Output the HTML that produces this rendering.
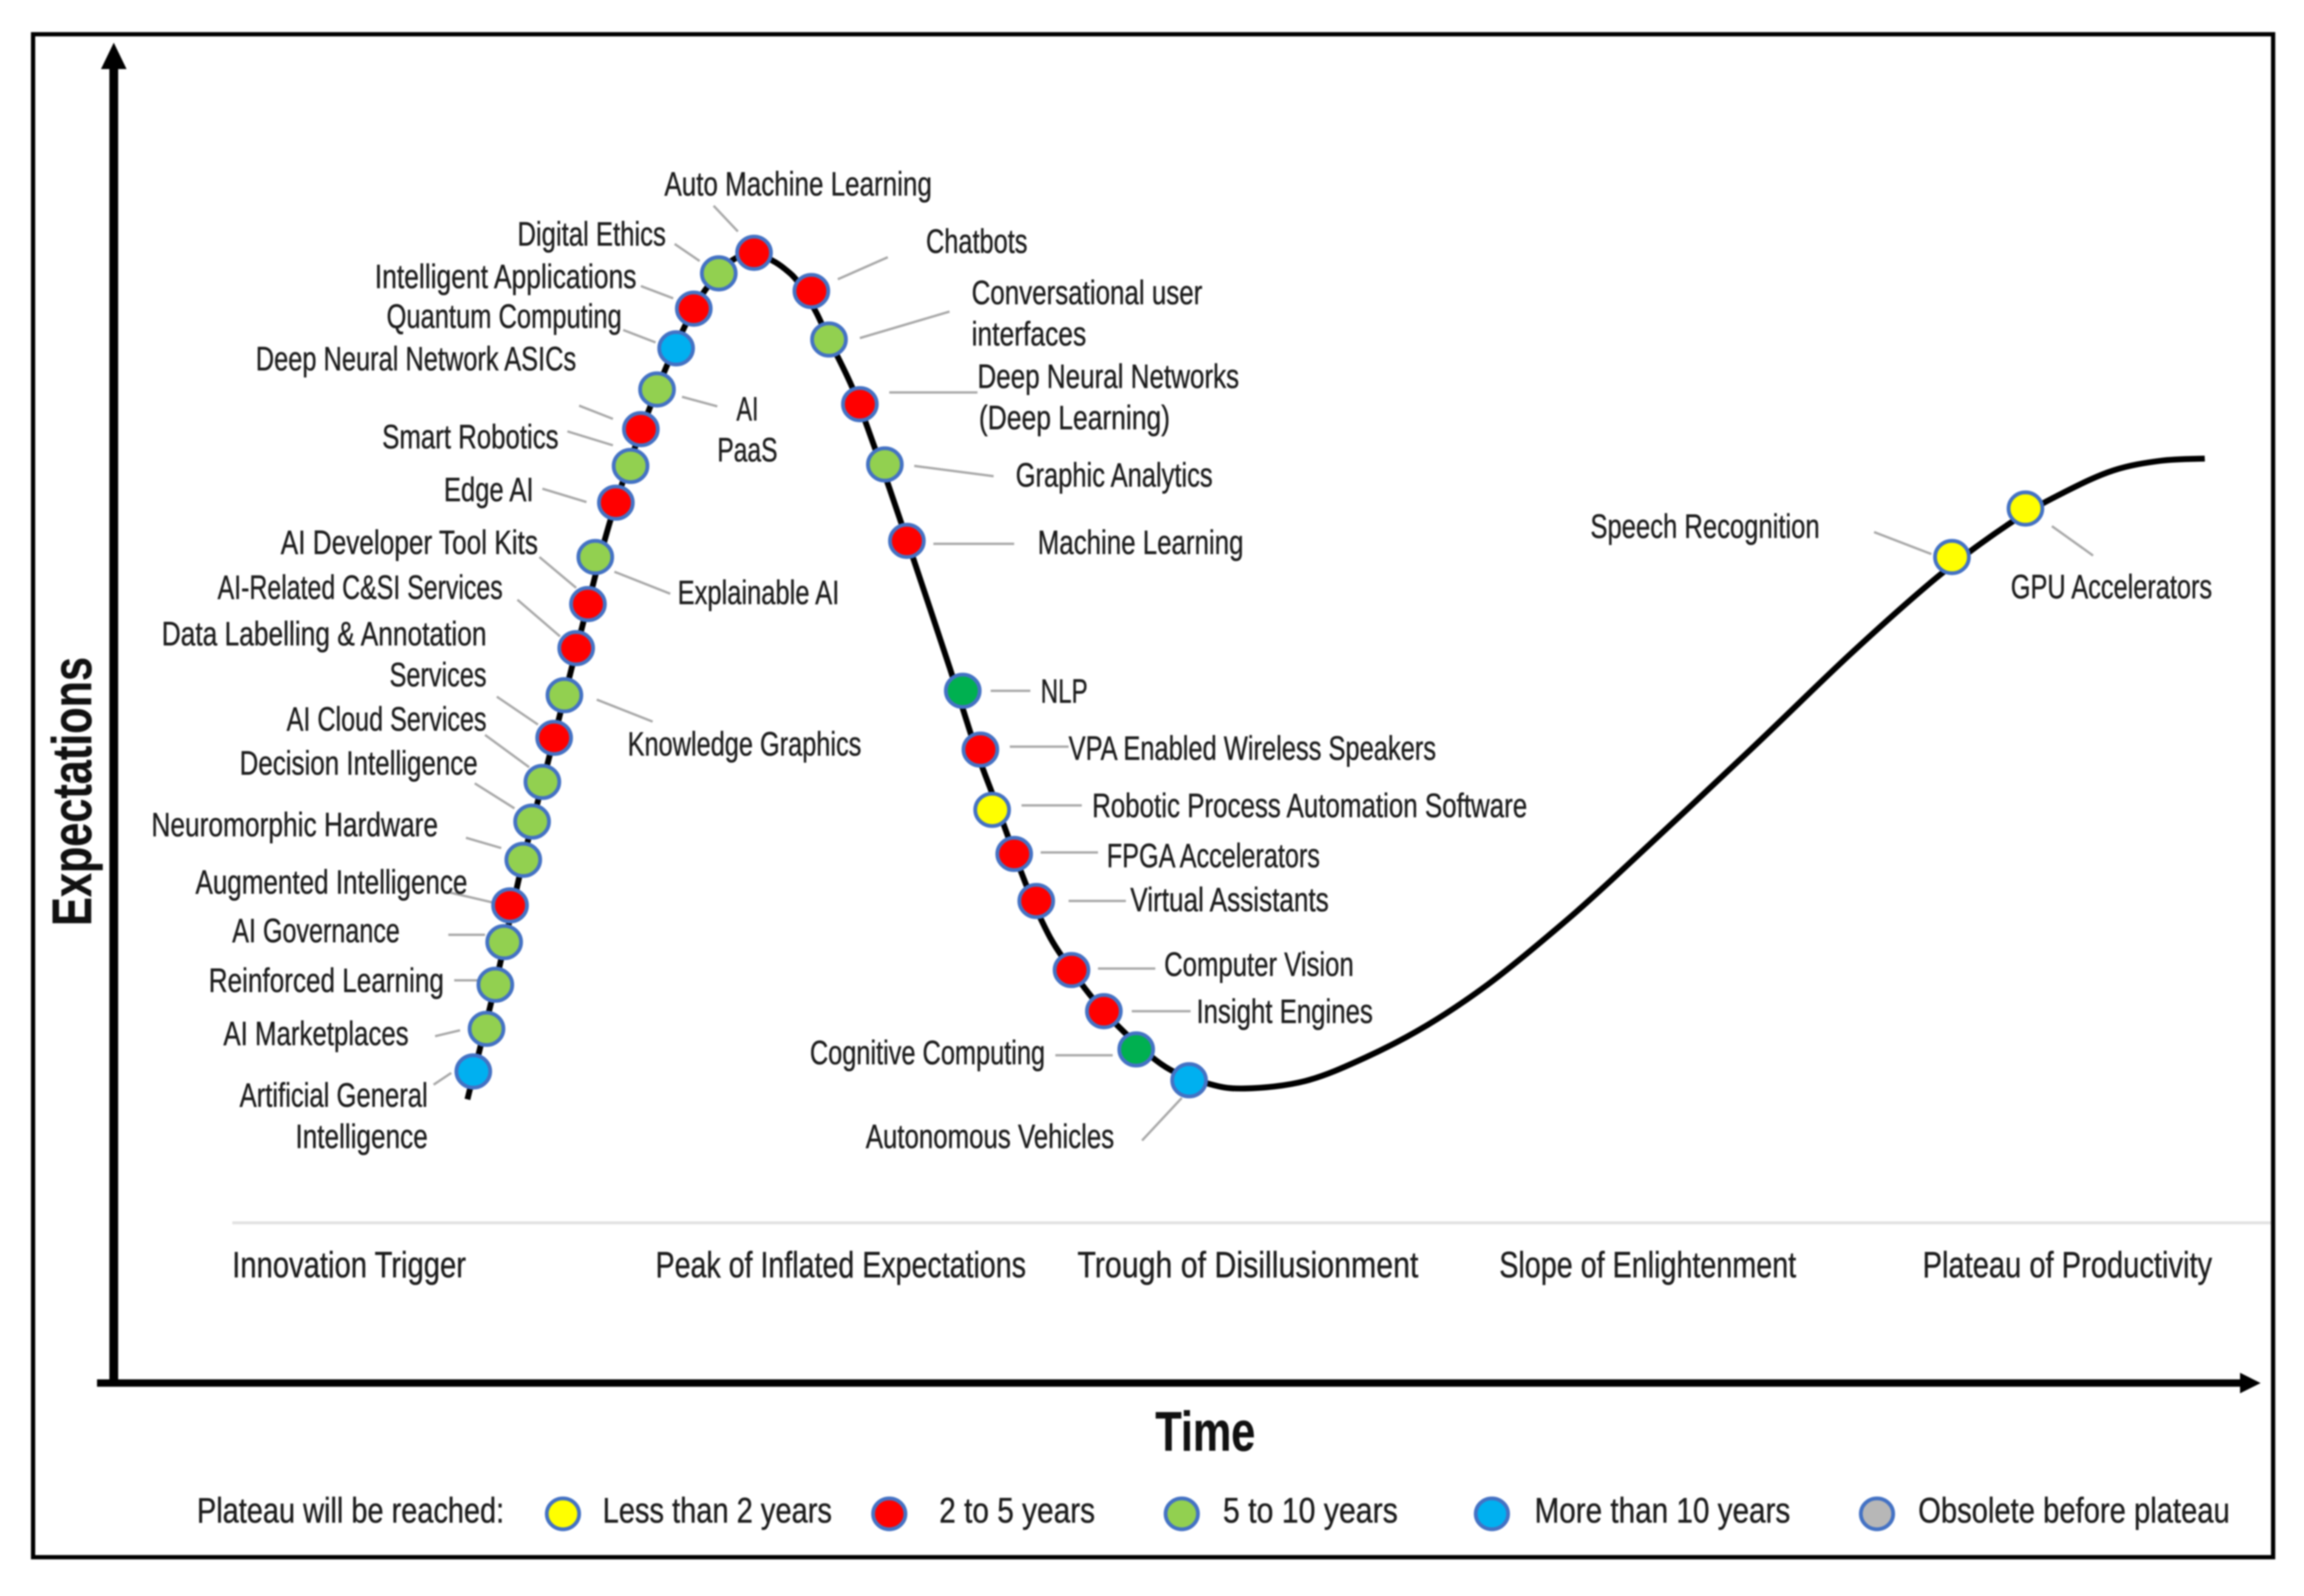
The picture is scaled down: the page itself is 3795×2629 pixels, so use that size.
<!DOCTYPE html>
<html lang="en">
<head>
<meta charset="utf-8">
<title>Hype Cycle for Artificial Intelligence</title>
<style>
html,body{margin:0;padding:0;background:#fff;}
svg{display:block;filter:blur(1.4px);}
text{font-family:"Liberation Sans",sans-serif;fill:#1c1c1c;stroke:#1c1c1c;stroke-width:0.25px;}
.lb{font-size:23px;}
.ph{font-size:25px;}
.lg{font-size:24px;}
.ld{stroke:#a8a8a8;stroke-width:1.6;fill:none;}
.mk{stroke:#4472c4;stroke-width:2.6;}
</style>
</head>
<body>
<svg id="chart" xmlns="http://www.w3.org/2000/svg" width="3795" height="2629" viewBox="0 0 1567.5 1085.9">
<rect x="0" y="0" width="1567.5" height="1085.9" fill="#fff"/>
<rect x="22.5" y="23.3" width="1524" height="1036.2" fill="none" stroke="#000" stroke-width="2.9"/>

<line x1="77.4" y1="44" x2="77.4" y2="943" stroke="#000" stroke-width="6"/>
<polygon points="77.4,29 86.1,47 68.7,47" fill="#000"/>
<line x1="66" y1="941" x2="1526" y2="941" stroke="#000" stroke-width="5"/>
<polygon points="1538,941 1524,934 1524,948" fill="#000"/>
<text transform="translate(62,630) rotate(-90)" font-size="38" font-weight="bold" textLength="183" lengthAdjust="spacingAndGlyphs" style="fill:#111">Expectations</text>
<text x="786" y="987" font-size="38" font-weight="bold" textLength="68" lengthAdjust="spacingAndGlyphs" style="fill:#111">Time</text>

<line x1="158" y1="832" x2="1545" y2="832" stroke="#e2e2e2" stroke-width="2"/>
<text class="ph" x="158" y="869" textLength="159" lengthAdjust="spacingAndGlyphs">Innovation Trigger</text>
<text class="ph" x="446" y="869" textLength="252" lengthAdjust="spacingAndGlyphs">Peak of Inflated Expectations</text>
<text class="ph" x="733" y="869" textLength="232" lengthAdjust="spacingAndGlyphs">Trough of Disillusionment</text>
<text class="ph" x="1020" y="869" textLength="202" lengthAdjust="spacingAndGlyphs">Slope of Enlightenment</text>
<text class="ph" x="1308" y="869" textLength="197" lengthAdjust="spacingAndGlyphs">Plateau of Productivity</text>

<g id="leaders">
<line class="ld" x1="485.5" y1="140" x2="502" y2="157.5"/>
<line class="ld" x1="459" y1="166" x2="476" y2="177.6"/>
<line class="ld" x1="436" y1="194.6" x2="458" y2="203"/>
<line class="ld" x1="424" y1="224.5" x2="446" y2="233"/>
<line class="ld" x1="394" y1="276" x2="417" y2="285"/>
<line class="ld" x1="386" y1="293.5" x2="417" y2="303"/>
<line class="ld" x1="464" y1="270" x2="488" y2="276.5"/>
<line class="ld" x1="369" y1="332.5" x2="399" y2="341.6"/>
<line class="ld" x1="367" y1="379" x2="392" y2="400"/>
<line class="ld" x1="352" y1="408" x2="381" y2="433"/>
<line class="ld" x1="338" y1="474" x2="366" y2="493"/>
<line class="ld" x1="330" y1="500" x2="360" y2="522"/>
<line class="ld" x1="323" y1="533" x2="350" y2="550"/>
<line class="ld" x1="317" y1="570" x2="341" y2="577"/>
<line class="ld" x1="305" y1="607" x2="335" y2="614"/>
<line class="ld" x1="305" y1="636" x2="330" y2="636"/>
<line class="ld" x1="309" y1="667" x2="325" y2="667"/>
<line class="ld" x1="296" y1="705" x2="313" y2="701"/>
<line class="ld" x1="295" y1="738" x2="307" y2="730"/>
<line class="ld" x1="418" y1="389" x2="456" y2="404"/>
<line class="ld" x1="406" y1="476" x2="444" y2="491"/>
<line class="ld" x1="570" y1="190" x2="604" y2="175"/>
<line class="ld" x1="585" y1="230" x2="646" y2="212"/>
<line class="ld" x1="605" y1="267" x2="665" y2="267"/>
<line class="ld" x1="622" y1="317" x2="676" y2="324"/>
<line class="ld" x1="635" y1="370" x2="690" y2="370"/>
<line class="ld" x1="674" y1="470" x2="701" y2="470"/>
<line class="ld" x1="687" y1="508" x2="727" y2="508"/>
<line class="ld" x1="695" y1="548" x2="736" y2="548"/>
<line class="ld" x1="708" y1="580" x2="747" y2="580"/>
<line class="ld" x1="727" y1="613" x2="766" y2="613"/>
<line class="ld" x1="747" y1="659" x2="786" y2="659"/>
<line class="ld" x1="770" y1="688" x2="810" y2="688"/>
<line class="ld" x1="718" y1="718" x2="757" y2="718"/>
<line class="ld" x1="777" y1="776" x2="804" y2="747"/>
<line class="ld" x1="1275" y1="362" x2="1314" y2="377"/>
<line class="ld" x1="1396" y1="358" x2="1424" y2="378"/>
</g>

<g id="series"></g>

<g id="labels">
<text class="lb" x="452" y="133" textLength="182" lengthAdjust="spacingAndGlyphs">Auto Machine Learning</text>
<text class="lb" x="352" y="167" textLength="101" lengthAdjust="spacingAndGlyphs">Digital Ethics</text>
<text class="lb" x="255" y="196" textLength="178" lengthAdjust="spacingAndGlyphs">Intelligent Applications</text>
<text class="lb" x="263" y="223" textLength="160" lengthAdjust="spacingAndGlyphs">Quantum Computing</text>
<text class="lb" x="174" y="252" textLength="218" lengthAdjust="spacingAndGlyphs">Deep Neural Network ASICs</text>
<text class="lb" x="260" y="305" textLength="120" lengthAdjust="spacingAndGlyphs">Smart Robotics</text>
<text class="lb" x="302" y="341" textLength="61" lengthAdjust="spacingAndGlyphs">Edge AI</text>
<text class="lb" x="191" y="377" textLength="175" lengthAdjust="spacingAndGlyphs">AI Developer Tool Kits</text>
<text class="lb" x="148" y="407.5" textLength="194" lengthAdjust="spacingAndGlyphs">AI-Related C&amp;SI Services</text>
<text class="lb" x="110" y="439" textLength="221" lengthAdjust="spacingAndGlyphs">Data Labelling &amp; Annotation</text>
<text class="lb" x="265" y="467" textLength="66" lengthAdjust="spacingAndGlyphs">Services</text>
<text class="lb" x="195" y="497" textLength="136" lengthAdjust="spacingAndGlyphs">AI Cloud Services</text>
<text class="lb" x="163" y="527" textLength="162" lengthAdjust="spacingAndGlyphs">Decision Intelligence</text>
<text class="lb" x="103" y="569" textLength="195" lengthAdjust="spacingAndGlyphs">Neuromorphic Hardware</text>
<text class="lb" x="133" y="608" textLength="185" lengthAdjust="spacingAndGlyphs">Augmented Intelligence</text>
<text class="lb" x="158" y="641" textLength="114" lengthAdjust="spacingAndGlyphs">AI Governance</text>
<text class="lb" x="142" y="675" textLength="160" lengthAdjust="spacingAndGlyphs">Reinforced Learning</text>
<text class="lb" x="152" y="711" textLength="126" lengthAdjust="spacingAndGlyphs">AI Marketplaces</text>
<text class="lb" x="163" y="753" textLength="128" lengthAdjust="spacingAndGlyphs">Artificial General</text>
<text class="lb" x="201" y="781" textLength="90" lengthAdjust="spacingAndGlyphs">Intelligence</text>
<text class="lb" x="501" y="286" textLength="15" lengthAdjust="spacingAndGlyphs">AI</text>
<text class="lb" x="488" y="314" textLength="41" lengthAdjust="spacingAndGlyphs">PaaS</text>
<text class="lb" x="461" y="411" textLength="110" lengthAdjust="spacingAndGlyphs">Explainable AI</text>
<text class="lb" x="427" y="514" textLength="159" lengthAdjust="spacingAndGlyphs">Knowledge Graphics</text>
<text class="lb" x="630" y="172" textLength="69" lengthAdjust="spacingAndGlyphs">Chatbots</text>
<text class="lb" x="661" y="207" textLength="157" lengthAdjust="spacingAndGlyphs">Conversational user</text>
<text class="lb" x="661" y="235" textLength="78" lengthAdjust="spacingAndGlyphs">interfaces</text>
<text class="lb" x="665" y="264" textLength="178" lengthAdjust="spacingAndGlyphs">Deep Neural Networks</text>
<text class="lb" x="666" y="292" textLength="130" lengthAdjust="spacingAndGlyphs">(Deep Learning)</text>
<text class="lb" x="691" y="331" textLength="134" lengthAdjust="spacingAndGlyphs">Graphic Analytics</text>
<text class="lb" x="706" y="377" textLength="140" lengthAdjust="spacingAndGlyphs">Machine Learning</text>
<text class="lb" x="708" y="478" textLength="32" lengthAdjust="spacingAndGlyphs">NLP</text>
<text class="lb" x="727" y="517" textLength="250" lengthAdjust="spacingAndGlyphs">VPA Enabled Wireless Speakers</text>
<text class="lb" x="743" y="556" textLength="296" lengthAdjust="spacingAndGlyphs">Robotic Process Automation Software</text>
<text class="lb" x="753" y="590" textLength="145" lengthAdjust="spacingAndGlyphs">FPGA Accelerators</text>
<text class="lb" x="769" y="620" textLength="135" lengthAdjust="spacingAndGlyphs">Virtual Assistants</text>
<text class="lb" x="792" y="664" textLength="129" lengthAdjust="spacingAndGlyphs">Computer Vision</text>
<text class="lb" x="814" y="696" textLength="120" lengthAdjust="spacingAndGlyphs">Insight Engines</text>
<text class="lb" x="551" y="724" textLength="160" lengthAdjust="spacingAndGlyphs">Cognitive Computing</text>
<text class="lb" x="589" y="781" textLength="169" lengthAdjust="spacingAndGlyphs">Autonomous Vehicles</text>
<text class="lb" x="1082" y="366" textLength="156" lengthAdjust="spacingAndGlyphs">Speech Recognition</text>
<text class="lb" x="1368" y="407" textLength="137" lengthAdjust="spacingAndGlyphs">GPU Accelerators</text>
</g>

<g id="legend">
<text class="lg" x="134" y="1036" textLength="209" lengthAdjust="spacingAndGlyphs">Plateau will be reached:</text>
<ellipse class="mk" cx="383" cy="1030" rx="11" ry="10.5" fill="#ffff00"/>
<text class="lg" x="410" y="1036" textLength="156" lengthAdjust="spacingAndGlyphs">Less than 2 years</text>
<ellipse class="mk" cx="605" cy="1030" rx="11" ry="10.5" fill="#ff0000"/>
<text class="lg" x="639" y="1036" textLength="106" lengthAdjust="spacingAndGlyphs">2 to 5 years</text>
<ellipse class="mk" cx="804" cy="1030" rx="11" ry="10.5" fill="#92d050"/>
<text class="lg" x="832" y="1036" textLength="119" lengthAdjust="spacingAndGlyphs">5 to 10 years</text>
<ellipse class="mk" cx="1015" cy="1030" rx="11" ry="10.5" fill="#00b0f0"/>
<text class="lg" x="1044" y="1036" textLength="174" lengthAdjust="spacingAndGlyphs">More than 10 years</text>
<ellipse class="mk" cx="1277" cy="1030" rx="11" ry="10.5" fill="#b7b7b7"/>
<text class="lg" x="1305" y="1036" textLength="212" lengthAdjust="spacingAndGlyphs">Obsolete before plateau</text>
</g>
</svg>

<script>
// Curve samples (time, expectations)
const curveTime = [24.0,25.9,27.8,29.9,32.2,34.1,36.9,39.4,41.1,42.2,43.5,44.7,45.6,46.5,47.7,48.5,50.2,51.8,52.6,54.0,56.8,58.6,59.9,61.7,63.0,64.4,67.3,71.2,74.3,76.9,81.0,85.1,89.3,93.4,97.5,101.7,111.3,118.2,124.2,129.1,132.7,136.0,139.2,142.2];
const curveExpect = [19.3,27.1,35.6,43.9,53.0,59.9,67.6,73.1,75.5,76.5,76.9,76.4,75.8,74.9,72.9,71.2,67.7,63.4,61.2,57.1,48.7,43.1,39.6,34.7,31.6,29.1,25.3,21.7,20.4,20.04,20.55,22.15,24.35,27.1,30.4,34.1,43.1,49.7,55.0,58.6,60.64,62.1,62.75,62.9];

// Technologies on the curve
const techNames = ["artificial-general-intelligence","ai-marketplaces","reinforced-learning","ai-governance","augmented-intelligence","neuromorphic-hardware","decision-intelligence","ai-cloud-services","data-labelling-annotation","knowledge-graphics","ai-related-csi-services","ai-developer-tool-kits","explainable-ai","edge-ai","smart-robotics","deep-neural-network-asics","ai-paas","quantum-computing","intelligent-applications","digital-ethics","auto-machine-learning","chatbots","conversational-user-interfaces","deep-neural-networks","graphic-analytics","machine-learning","nlp","vpa-wireless-speakers","robotic-process-automation","fpga-accelerators","virtual-assistants","computer-vision","insight-engines","cognitive-computing","autonomous-vehicles","speech-recognition","gpu-accelerators"];
const techTime = [24.4,25.3,25.9,26.5,26.9,27.8,28.4,29.1,29.9,30.6,31.4,32.2,32.7,34.1,35.1,35.8,36.9,38.2,39.4,41.1,43.5,47.4,48.6,50.7,52.4,53.9,57.7,58.9,59.7,61.2,62.7,65.1,67.3,69.5,73.1,125.0,130.0];
const techExpect = [21.2,24.1,27.1,30.0,32.5,35.6,38.2,40.9,43.9,46.8,50.0,53.0,56.2,59.9,62.4,64.9,67.6,70.4,73.1,75.5,76.9,74.3,71.0,66.6,62.5,57.3,47.1,43.1,39.0,36.0,32.8,28.1,25.3,22.7,20.6,56.2,59.5];
const techPlateau = ["10+","5-10","5-10","5-10","2-5","5-10","5-10","5-10","2-5","5-10","2-5","2-5","5-10","2-5","5-10","2-5","5-10","10+","2-5","5-10","2-5","2-5","5-10","2-5","5-10","2-5","nlp","2-5","<2","2-5","2-5","2-5","2-5","nlp","10+","<2","<2"];

const plateauColors = {"<2":"#ffff00","2-5":"#ff0000","5-10":"#92d050","10+":"#00b0f0","nlp":"#00b050"};

// Axis functions
function xAxis(t){ return 78 + t * 10; }
function yAxis(e){ return 941 - e * 10; }

const SVGNS = "http://www.w3.org/2000/svg";
const series = document.getElementById("series");

function smoothPath(xs, ys){
  const px = xs.map(xAxis), py = ys.map(yAxis);
  let d = "M" + px[0] + " " + py[0];
  for (let i = 0; i < px.length - 1; i++){
    const a = Math.max(i - 1, 0), b = Math.min(i + 2, px.length - 1);
    const c1x = px[i] + (px[i+1] - px[a]) / 6, c1y = py[i] + (py[i+1] - py[a]) / 6;
    const c2x = px[i+1] - (px[b] - px[i]) / 6, c2y = py[i+1] - (py[b] - py[i]) / 6;
    d += " C" + c1x.toFixed(2) + " " + c1y.toFixed(2) + " " + c2x.toFixed(2) + " " + c2y.toFixed(2) + " " + px[i+1].toFixed(2) + " " + py[i+1].toFixed(2);
  }
  return d;
}

const curve = document.createElementNS(SVGNS, "path");


curve.setAttribute("d", smoothPath(curveTime, curveExpect));
curve.setAttribute("fill", "none");
curve.setAttribute("stroke", "#000");
curve.setAttribute("stroke-width", "4");
series.appendChild(curve);

techNames.forEach(function(name, i){
  const dot = document.createElementNS(SVGNS, "ellipse");
  
  
  dot.setAttribute("class", "mk");
  dot.setAttribute("cx", xAxis(techTime[i]));
  dot.setAttribute("cy", yAxis(techExpect[i]));
  dot.setAttribute("rx", "11.5");
  dot.setAttribute("ry", "11");
  dot.setAttribute("fill", plateauColors[techPlateau[i]]);
  series.appendChild(dot);
});
</script>
</body>
</html>
